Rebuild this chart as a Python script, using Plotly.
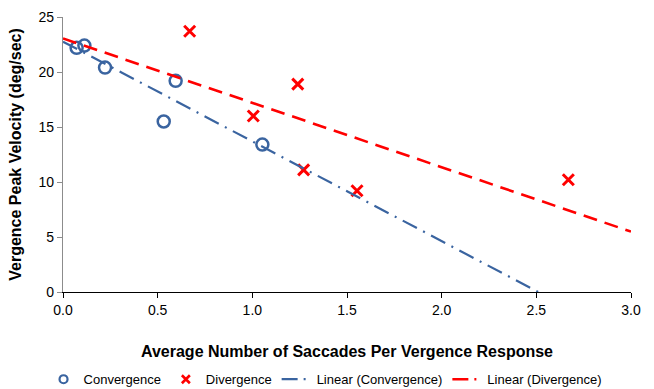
import numpy as np
import plotly.graph_objects as go

conv_x = [0.072, 0.113, 0.222, 0.595, 0.532, 1.053]
conv_y = [22.2, 22.4, 20.4, 19.2, 15.5, 13.4]
div_x = [0.669, 1.005, 1.240, 1.271, 1.553, 2.669]
div_y = [23.7, 16.0, 18.9, 11.1, 9.2, 10.2]

blue = "#3A64A0"
red = "#FF0000"

# Linear trendlines (least squares), as in the original chart
cs, ci = np.polyfit(conv_x, conv_y, 1)
ds, di = np.polyfit(div_x, div_y, 1)
cx_end = -ci / cs
conv_fit_x = [0.0, cx_end]
conv_fit_y = [ci, 0.0]
div_fit_x = [0.0, 3.0]
div_fit_y = [di, di + ds * 3.0]

conv_dash = "16px,7px,2px,7px"
div_dash = "14px,8px"

fig = go.Figure()
fig.add_trace(go.Scatter(x=conv_x, y=conv_y, mode="markers", name="Convergence", showlegend=False,
                         marker=dict(symbol="circle-open", size=12, color=blue,
                                     line=dict(width=2.5, color=blue))))
fig.add_trace(go.Scatter(x=div_x, y=div_y, mode="markers", name="Divergence", showlegend=False,
                         marker=dict(symbol="x-thin-open", size=11, color=red,
                                     line=dict(width=3, color=red))))
fig.add_trace(go.Scatter(x=conv_fit_x, y=conv_fit_y, mode="lines", name="Linear (Convergence)",
                         showlegend=False,
                         line=dict(color=blue, width=2.2, dash=conv_dash)))
fig.add_trace(go.Scatter(x=div_fit_x, y=div_fit_y, mode="lines", name="Linear (Divergence)",
                         showlegend=False,
                         line=dict(color=red, width=2.6, dash=div_dash)))

# legend entries (smaller symbols, like the original)
fig.add_trace(go.Scatter(x=[None], y=[None], mode="markers", name="Convergence",
                         marker=dict(symbol="circle-open", size=8, color=blue,
                                     line=dict(width=2.2, color=blue))))
fig.add_trace(go.Scatter(x=[None], y=[None], mode="markers", name="Divergence",
                         marker=dict(symbol="x-thin-open", size=8, color=red,
                                     line=dict(width=2.6, color=red))))
fig.add_trace(go.Scatter(x=[None], y=[None], mode="lines", name="Linear (Convergence)",
                         line=dict(color=blue, width=2.2, dash="16px,6px,2px,20px")))
fig.add_trace(go.Scatter(x=[None], y=[None], mode="lines", name="Linear (Divergence)",
                         line=dict(color=red, width=2.6, dash="16px,6px,2px,20px")))

fig.update_layout(
    width=654, height=389,
    margin=dict(l=63, r=23, t=17, b=97, autoexpand=False),
    paper_bgcolor="white", plot_bgcolor="white",
    font=dict(family="Liberation Sans, Arial, sans-serif", size=14, color="#000000"),
    showlegend=True,
    legend=dict(orientation="h", xref="container", yref="container",
                x=0.497, xanchor="center", y=0.025, yanchor="middle",
                font=dict(size=13), itemwidth=30, tracegroupgap=0,
                bgcolor="rgba(0,0,0,0)"),
    xaxis=dict(range=[0, 3.0], dtick=0.5, tickformat=".1f", showgrid=False, zeroline=False,
               showline=True, linecolor="#000000", linewidth=1.3, automargin=False,
               ticks="outside", ticklen=5, tickcolor="#000000",
               tickfont=dict(size=14),
               title=dict(text="<b>Average Number of Saccades Per Vergence Response</b>",
                          font=dict(size=16), standoff=28)),
    yaxis=dict(range=[0, 25], dtick=5, showgrid=False, zeroline=False,
               showline=True, linecolor="#8C8C8C", linewidth=1.3, automargin=False,
               ticks="outside", ticklen=5, tickcolor="#8C8C8C",
               tickfont=dict(size=14),
               title=dict(text="<b>Vergence Peak Velocity (deg/sec)</b>",
                          font=dict(size=16), standoff=12)),
)

fig.write_html("out.html")
